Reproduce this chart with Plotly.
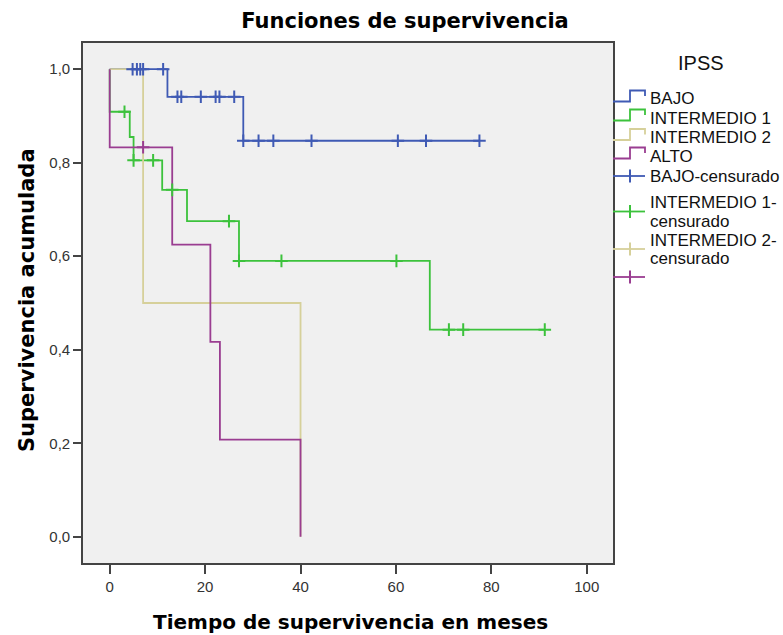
import plotly.graph_objects as go

# ---------------- data ----------------
groups = ["BAJO", "INTERMEDIO 1", "INTERMEDIO 2", "ALTO"]
colors = ["#3f5ab4", "#3cc23c", "#d6d09a", "#9a3d91"]

bajo_time = [0, 12.1, 28.0, 77.5]
bajo_surv = [1.0, 0.941, 0.847, 0.847]
int1_time = [0, 0, 4.2, 5.0, 11.0, 16.2, 27.1, 67.1, 91.2]
int1_surv = [1.0, 0.909, 0.855, 0.805, 0.742, 0.675, 0.590, 0.443, 0.443]
int2_time = [0, 7.0, 40.0]
int2_surv = [1.0, 0.500, 0.0]
alto_time = [0, 0, 13.1, 21.1, 23.1, 40.0]
alto_surv = [1.0, 0.833, 0.625, 0.417, 0.208, 0.0]

bajo_cens_time = [4.8, 5.7, 6.4, 7.0, 11.2, 14.2, 15.0, 19.1, 22.2, 23.0, 26.1,
                  28.0, 31.2, 34.3, 42.3, 60.4, 66.3, 77.5]
bajo_cens_surv = [1.0, 1.0, 1.0, 1.0, 1.0, 0.941, 0.941, 0.941, 0.941, 0.941, 0.941,
                  0.847, 0.847, 0.847, 0.847, 0.847, 0.847, 0.847]
int1_cens_time = [3.1, 5.0, 9.1, 13.1, 25.0, 27.1, 36.0, 60.1, 71.1, 74.1, 91.2]
int1_cens_surv = [0.909, 0.805, 0.805, 0.742, 0.675, 0.590, 0.590, 0.590, 0.443, 0.443, 0.443]
int2_cens_time = []
int2_cens_surv = []
alto_cens_time = [7.0]
alto_cens_surv = [0.833]

cens_labels = [["BAJO-censurado"], ["INTERMEDIO 1-", "censurado"],
               ["INTERMEDIO 2-", "censurado"], []]

x_ticks = [0, 20, 40, 60, 80, 100]
y_ticks = [0.0, 0.2, 0.4, 0.6, 0.8, 1.0]

curves = [(bajo_time, bajo_surv), (int1_time, int1_surv),
          (int2_time, int2_surv), (alto_time, alto_surv)]
censored = [(bajo_cens_time, bajo_cens_surv), (int1_cens_time, int1_cens_surv),
            (int2_cens_time, int2_cens_surv), (alto_cens_time, alto_cens_surv)]

# ---------------- layout geometry ----------------
W, H = 783, 635
ML, MR, MT, MB = 83, 170, 43, 72
PW, PH = W - ML - MR, H - MT - MB


def px(xp):
    return (xp - ML) / PW


def py(yp):
    return (H - MB - yp) / PH


fig = go.Figure()

for (t, s), name, c in zip(curves, groups, colors):
    fig.add_trace(go.Scatter(x=t, y=s, mode="lines", name=name,
                             line=dict(color=c, width=1.8, shape="hv"),
                             showlegend=False, hoverinfo="skip"))

for (t, s), name, c in zip(censored, groups, colors):
    fig.add_trace(go.Scatter(x=t, y=s, mode="markers", name=name + "-censurado",
                             marker=dict(symbol="cross-thin", size=9,
                                         line=dict(color=c, width=2)),
                             showlegend=False, hoverinfo="skip"))

shapes = []
annotations = []

# manual legend (SPSS style)
text_font = dict(family="Liberation Sans, Arial, sans-serif", size=17, color="#111111")
line_rows = [99, 118, 137.5, 156]
for yc, name, c in zip(line_rows, groups, colors):
    path = "M {a},{b} L {c1},{b} L {c1},{d} L {e},{d} L {e},{f}".format(
        a=px(613), b=py(yc + 2.5), c1=px(630), d=py(yc - 8.5), e=px(645), f=py(yc - 3))
    shapes.append(dict(type="path", xref="paper", yref="paper", path=path,
                       line=dict(color=c, width=1.8)))
    annotations.append(dict(x=px(648), y=py(yc), xref="paper", yref="paper",
                            text=name, showarrow=False, xanchor="left",
                            yanchor="middle", font=text_font))

cens_icon_rows = [176, 211.5, 249, 277]
cens_text_rows = [[176], [202.5, 221], [240, 258.5], []]
for yc, labels, trows, c in zip(cens_icon_rows, cens_labels, cens_text_rows, colors):
    shapes.append(dict(type="line", xref="paper", yref="paper",
                       x0=px(613), x1=px(645), y0=py(yc), y1=py(yc),
                       line=dict(color=c, width=1.8)))
    shapes.append(dict(type="line", xref="paper", yref="paper",
                       x0=px(630), x1=px(630), y0=py(yc - 6.5), y1=py(yc + 6.5),
                       line=dict(color=c, width=2)))
    for lab, ty in zip(labels, trows):
        annotations.append(dict(x=px(648), y=py(ty), xref="paper", yref="paper",
                                text=lab, showarrow=False, xanchor="left",
                                yanchor="middle", font=text_font))

annotations.append(dict(x=px(701), y=py(63), xref="paper", yref="paper", text="IPSS",
                        showarrow=False, xanchor="center", yanchor="middle",
                        font=dict(family="Liberation Sans, Arial, sans-serif",
                                  size=20, color="#111111")))

# axis titles
annotations.append(dict(x=px(350), y=py(622), xref="paper", yref="paper",
                        text="Tiempo de supervivencia en meses", showarrow=False,
                        xanchor="center", yanchor="middle",
                        font=dict(family="DejaVu Sans", size=20, color="#000000",
                                  weight="bold")))
annotations.append(dict(x=px(27), y=py(300), xref="paper", yref="paper",
                        text="Supervivencia acumulada", showarrow=False, textangle=-90,
                        xanchor="center", yanchor="middle",
                        font=dict(family="DejaVu Sans", size=21, color="#000000",
                                  weight="bold")))

tick_font = dict(family="Liberation Sans, Arial, sans-serif", size=15, color="#333333")

fig.update_layout(
    width=W, height=H,
    margin=dict(l=ML, r=MR, t=MT, b=MB),
    paper_bgcolor="white",
    plot_bgcolor="#f0f0f0",
    separators=",.",
    showlegend=False,
    title=dict(text="Funciones de supervivencia", x=405 / W, xanchor="center",
               xref="container", yref="container", y=1 - 21 / H, yanchor="middle",
               font=dict(family="DejaVu Sans", size=21, color="#000000", weight="bold")),
    xaxis=dict(range=[-5.6, 105.5], tickvals=x_ticks, ticks="outside", ticklen=9,
               tickwidth=2, tickcolor="#444444", showgrid=False, zeroline=False,
               showline=True, mirror=True, linecolor="#444444", linewidth=1.6,
               tickfont=tick_font),
    yaxis=dict(range=[-0.056, 1.056], tickvals=y_ticks, tickformat=".1f",
               ticks="outside", ticklen=8, tickwidth=2, tickcolor="#444444",
               showgrid=False, zeroline=False, showline=True, mirror=True,
               linecolor="#444444", linewidth=1.6, tickfont=tick_font),
    shapes=shapes,
    annotations=annotations,
)

fig.write_html("out.html")
